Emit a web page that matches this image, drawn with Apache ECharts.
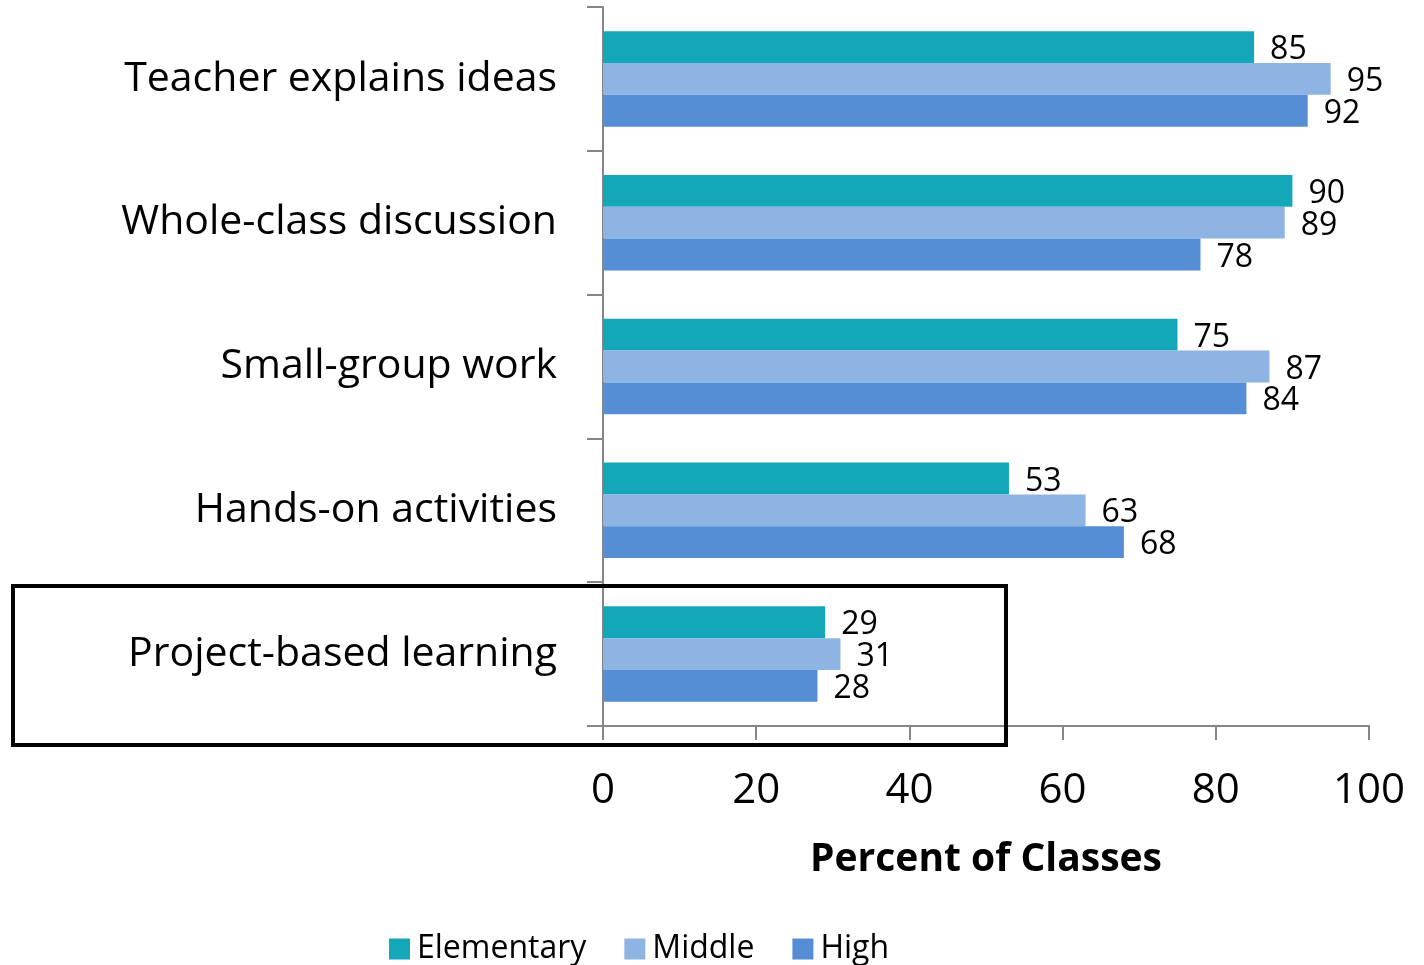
<!DOCTYPE html>
<html>
<head>
<meta charset="utf-8">
<script src="https://cdn.jsdelivr.net/npm/echarts@6/dist/echarts.min.js"></script>
<style>
html,body{margin:0;padding:0;background:#fff;}
#main{width:1424px;height:965px;}
</style>
</head>
<body>
<div id="main"></div>
<script>
// 分类和数据
var categories = ['Teacher explains ideas', 'Whole-class discussion', 'Small-group work', 'Hands-on activities', 'Project-based learning'];
var elementary = [85, 90, 75, 53, 29];
var middle = [95, 89, 87, 63, 31];
var high = [92, 78, 84, 68, 28];
var xTicks = [0, 20, 40, 60, 80, 100];

var fontName = 'Open Sans';

function barSeries(name, data, color) {
	return {
		name: name,
		type: 'bar',
		data: data,
		barGap: '0%',
		barCategoryGap: '33.6%',
		itemStyle: { color: color },
		label: {
			show: true,
			position: 'right',
			distance: 16,
			color: '#000',
			fontFamily: fontName,
			fontSize: 32,
			offset: [0, 3]
		}
	};
}

var myChart = echarts.init(document.getElementById('main'));
var option = {
	animation: false,
	grid: { left: 603, right: 55, top: 7, bottom: 239, containLabel: false },
	legend: {
		left: 384,
		top: 928,
		itemWidth: 21,
		itemHeight: 21,
		itemGap: 38,
		icon: 'rect',
		textStyle: { fontFamily: fontName, fontSize: 32, color: '#000', padding: [0, 0, 0, 2] },
		data: ['Elementary', 'Middle', 'High']
	},
	xAxis: {
		type: 'value',
		min: xTicks[0],
		max: xTicks[xTicks.length - 1],
		interval: 20,
		splitLine: { show: false },
		axisLine: { show: true, lineStyle: { color: '#868686', width: 2 } },
		axisTick: { show: true, length: 14, lineStyle: { color: '#868686', width: 2 } },
		axisLabel: { margin: 44, color: '#000', fontFamily: fontName, fontSize: 42 },
		name: 'Percent of Classes',
		nameLocation: 'middle',
		nameGap: 114,
		nameTextStyle: { fontFamily: fontName, fontSize: 39, fontWeight: 'bold', color: '#000' }
	},
	yAxis: {
		type: 'category',
		data: categories,
		inverse: true,
		axisLine: { show: true, lineStyle: { color: '#868686', width: 2 } },
		axisTick: { show: true, length: 16, lineStyle: { color: '#868686', width: 2 } },
		axisLabel: { margin: 46, color: '#000', fontFamily: fontName, fontSize: 41, padding: [5, 0, 0, 0] }
	},
	series: [
		barSeries('Elementary', elementary, '#14a7b9'),
		barSeries('Middle', middle, '#8db4e2'),
		barSeries('High', high, '#558ed5')
	],
	graphic: [{
		type: 'rect',
		shape: { x: 13, y: 586, width: 993, height: 159 },
		style: { fill: null, stroke: '#000', lineWidth: 4 },
		z: 100
	}]
};
myChart.setOption(option);
</script>
</body>
</html>
